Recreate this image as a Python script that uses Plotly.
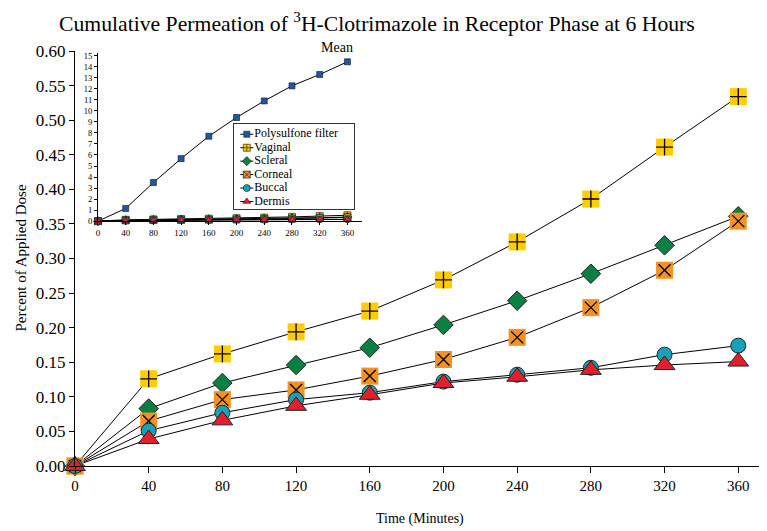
import plotly.graph_objects as go

time_min = [0, 40, 80, 120, 160, 200, 240, 280, 320, 360]
polysulfone = [0, 1.15, 3.5, 5.67, 7.7, 9.4, 10.9, 12.27, 13.3, 14.45]
vaginal = [0, 0.126, 0.162, 0.194, 0.224, 0.269, 0.324, 0.386, 0.461, 0.534]
scleral = [0, 0.083, 0.120, 0.146, 0.171, 0.204, 0.239, 0.278, 0.319, 0.361]
corneal = [0, 0.065, 0.096, 0.110, 0.130, 0.154, 0.186, 0.229, 0.283, 0.354]
buccal = [0, 0.051, 0.077, 0.096, 0.106, 0.122, 0.132, 0.142, 0.161, 0.174]
dermis = [0, 0.039, 0.066, 0.087, 0.103, 0.120, 0.129, 0.139, 0.146, 0.151]

names = ["Polysulfone filter", "Vaginal", "Scleral", "Corneal", "Buccal", "Dermis"]
y_tick_vals = [0, 0.05, 0.10, 0.15, 0.20, 0.25, 0.30, 0.35, 0.40, 0.45, 0.50, 0.55, 0.60]
inset_y_ticks = list(range(0, 16))

C_BLUE = "#1D58A8"
C_YEL = "#FFCC00"
C_GRN = "#0B8040"
C_ORG = "#F39224"
C_TEAL = "#16A2B8"
C_RED = "#E41F2B"
FONT = "Liberation Serif"

fig = go.Figure()

main_series = [
    (vaginal, "square", C_YEL, 17, 0, "cross-thin", 12),
    (scleral, "diamond", C_GRN, 15, 1, None, 0),
    (corneal, "square", C_ORG, 17, 0, "x-thin", 12),
    (buccal, "circle", C_TEAL, 15, 1, None, 0),
    (dermis, "triangle-up", C_RED, 18, 1, None, 0),
]

# main plot: lines first, then markers on top
for vals, *_ in main_series:
    fig.add_trace(go.Scatter(x=time_min, y=vals, mode="lines",
                             line=dict(color="black", width=1),
                             showlegend=False, cliponaxis=False, hoverinfo="skip",
                             xaxis="x", yaxis="y"))
for vals, sym, col, size, lw, over, osize in main_series:
    fig.add_trace(go.Scatter(x=time_min, y=vals, mode="markers",
                             marker=dict(symbol=sym, color=col, size=size,
                                         line=dict(color="#222222", width=lw)),
                             showlegend=False, cliponaxis=False,
                             xaxis="x", yaxis="y"))
    if over:
        fig.add_trace(go.Scatter(x=time_min, y=vals, mode="markers",
                                 marker=dict(symbol=over, size=osize, color="black",
                                             line=dict(color="black", width=1.3)),
                                 showlegend=False, cliponaxis=False, hoverinfo="skip",
                                 xaxis="x", yaxis="y"))

# inset "Mean"
inset_series = [
    (polysulfone, "square", C_BLUE, 6),
    (vaginal, "square-cross", C_YEL, 7),
    (scleral, "diamond", C_GRN, 7),
    (corneal, "square-x", C_ORG, 7),
    (buccal, "circle", C_TEAL, 7),
    (dermis, "triangle-up", C_RED, 7),
]
for name, (vals, sym, col, size) in zip(names, inset_series):
    fig.add_trace(go.Scatter(x=time_min, y=vals, mode="lines+markers", name=name,
                             line=dict(color="black", width=1),
                             marker=dict(symbol=sym, color=col, size=size,
                                         line=dict(color="#111111", width=0.6)),
                             showlegend=False, cliponaxis=False,
                             xaxis="x2", yaxis="y2"))

# legend of the inset, drawn in its own small pixel-unit axis box
LEG_W, LEG_H, ROW, ROW0 = 120, 85, 13.5, 10
fig.add_trace(go.Scatter(x=[0, LEG_W, LEG_W, 0, 0], y=[0, 0, LEG_H, LEG_H, 0],
                         mode="lines", fill="toself", fillcolor="white",
                         line=dict(width=0, color="white"), showlegend=False,
                         hoverinfo="skip", xaxis="x3", yaxis="y3"))
for i, (name, (vals, sym, col, size)) in enumerate(zip(names, inset_series)):
    yy = ROW0 + i * ROW
    fig.add_trace(go.Scatter(x=[6, 19], y=[yy, yy], mode="lines",
                             line=dict(color="black", width=1), showlegend=False,
                             hoverinfo="skip", xaxis="x3", yaxis="y3"))
    fig.add_trace(go.Scatter(x=[12.5], y=[yy], mode="markers",
                             marker=dict(symbol=sym, color=col, size=size,
                                         line=dict(color="#111111", width=0.6)),
                             showlegend=False, hoverinfo="skip",
                             xaxis="x3", yaxis="y3"))
    fig.add_trace(go.Scatter(x=[20], y=[yy], mode="text", text=[name],
                             textposition="middle right",
                             textfont=dict(family=FONT, size=12, color="black"),
                             showlegend=False, hoverinfo="skip",
                             xaxis="x3", yaxis="y3"))

fig.update_layout(
    width=759, height=523,
    margin=dict(l=67, r=0, t=43, b=65),
    paper_bgcolor="white", plot_bgcolor="rgba(0,0,0,0)",
    font=dict(family=FONT, color="black"),
    showlegend=False,
    xaxis=dict(domain=[0, 1], range=[0, 375.6], tickvals=time_min,
               showline=True, linecolor="black", linewidth=1,
               ticks="outside", ticklen=6, tickcolor="black",
               showgrid=False, zeroline=False,
               tickfont=dict(family=FONT, size=15)),
    yaxis=dict(domain=[0, 1], range=[0, 0.6], tickvals=y_tick_vals, tickformat=".2f",
               showline=True, linecolor="black", linewidth=1,
               ticks="outside", ticklen=5, tickcolor="black",
               showgrid=False, zeroline=False,
               tickfont=dict(family=FONT, size=17)),
    xaxis2=dict(domain=[0.0332, 0.4147], range=[0, 381], anchor="y2", tickvals=time_min,
                showline=True, linecolor="black", linewidth=1,
                ticks="outside", ticklen=3, tickcolor="black",
                showgrid=False, zeroline=False,
                tickfont=dict(family=FONT, size=9)),
    yaxis2=dict(domain=[0.590, 0.995], range=[0, 15.24], anchor="x2", tickvals=inset_y_ticks,
                showline=True, linecolor="black", linewidth=1,
                ticks="outside", ticklen=3, tickcolor="black",
                showgrid=False, zeroline=False,
                tickfont=dict(family=FONT, size=8.5)),
    xaxis3=dict(domain=[0.2302, 0.4036], range=[0, LEG_W], anchor="y3",
                showline=True, mirror=True, linecolor="#333333", linewidth=1,
                showticklabels=False, ticks="", showgrid=False, zeroline=False,
                fixedrange=True),
    yaxis3=dict(domain=[0.6193, 0.8234], range=[LEG_H, 0], anchor="x3",
                showline=True, mirror=True, linecolor="#333333", linewidth=1,
                showticklabels=False, ticks="", showgrid=False, zeroline=False,
                fixedrange=True),
    annotations=[
        dict(text="Cumulative Permeation of <sup>3</sup>H-Clotrimazole in Receptor Phase at 6 Hours",
             xref="paper", yref="paper", x=0.436, y=1.0, xanchor="center", yanchor="middle",
             yshift=29, showarrow=False, font=dict(family=FONT, size=21.7)),
        dict(text="Mean", xref="paper", yref="paper", x=0.3786, y=1.0, xanchor="center",
             yanchor="middle", yshift=4, showarrow=False, font=dict(family=FONT, size=14)),
        dict(text="Time (Minutes)", xref="paper", yref="paper", x=0.4986, y=0, yshift=-53,
             xanchor="center", yanchor="middle", showarrow=False, font=dict(family=FONT, size=14)),
        dict(text="Percent of Applied Dose", xref="paper", yref="paper", x=0, xshift=-55,
             y=0.5, xanchor="center", yanchor="middle", textangle=-90, showarrow=False,
             font=dict(family=FONT, size=15)),
    ],
)

fig.write_html("out.html")
